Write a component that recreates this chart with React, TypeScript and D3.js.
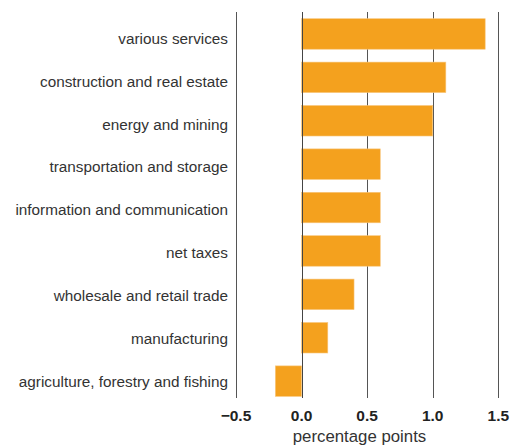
import React, { useEffect, useRef } from 'react';
import * as d3 from 'd3';

const categories = [
  'various services',
  'construction and real estate',
  'energy and mining',
  'transportation and storage',
  'information and communication',
  'net taxes',
  'wholesale and retail trade',
  'manufacturing',
  'agriculture, forestry and fishing',
];
const values = [1.4, 1.1, 1.0, 0.6, 0.6, 0.6, 0.4, 0.2, -0.2];
const ticks = [-0.5, 0, 0.5, 1.0, 1.5];

const FONT = "'Liberation Sans', Arial, Helvetica, sans-serif";

const App = () => {
  const svgRef = useRef<SVGSVGElement>(null);

  useEffect(() => {
    if (!svgRef.current) return;
    const width = 516;
    const height = 445;
    const svg = d3.select(svgRef.current);
    svg.selectAll('*').remove();
    svg.attr('width', width).attr('height', height);

    svg.append('rect').attr('width', width).attr('height', height).attr('fill', '#fff');

    const x = d3.scaleLinear().domain([-0.5, 1.5]).range([236, 498.3]);
    const y = d3.scaleBand<string>()
      .domain(categories)
      .range([18.7, 396.4])
      .paddingInner(0.297)
      .paddingOuter(0);
    // labels sit on a slightly tighter spacing than the bars
    const yLabel = d3.scalePoint<string>().domain(categories).range([44, 386.5]);

    // gridlines
    svg.append('g')
      .selectAll('line')
      .data(ticks)
      .enter()
      .append('line')
      .attr('x1', d => Math.round(x(d)) + 0.5)
      .attr('x2', d => Math.round(x(d)) + 0.5)
      .attr('y1', 12)
      .attr('y2', 398)
      .attr('stroke', '#555')
      .attr('stroke-width', 1);

    // bars
    svg.append('g')
      .selectAll('rect')
      .data(values)
      .enter()
      .append('rect')
      .attr('x', d => x(Math.min(0, d)))
      .attr('y', (d, i) => y(categories[i])!)
      .attr('width', d => Math.abs(x(d) - x(0)))
      .attr('height', y.bandwidth())
      .attr('fill', '#f4a11e')
      .attr('stroke', '#f8c77e')
      .attr('stroke-width', 0.6);

    // zero line on top of bars
    svg.append('line')
      .attr('x1', Math.round(x(0)) + 0.5)
      .attr('x2', Math.round(x(0)) + 0.5)
      .attr('y1', 12)
      .attr('y2', 398)
      .attr('stroke', '#444')
      .attr('stroke-width', 1);

    // category labels
    svg.append('g')
      .selectAll('text')
      .data(categories)
      .enter()
      .append('text')
      .attr('x', 228)
      .attr('y', d => yLabel(d)!)
      .attr('text-anchor', 'end')
      .attr('font-family', FONT)
      .attr('font-size', '15.3px')
      .attr('fill', '#333')
      .text(d => d);

    // tick labels
    svg.append('g')
      .selectAll('text')
      .data(ticks)
      .enter()
      .append('text')
      .attr('x', d => x(d))
      .attr('y', 420.5)
      .attr('text-anchor', 'middle')
      .attr('font-family', FONT)
      .attr('font-size', '15.5px')
      .attr('font-weight', 'bold')
      .attr('fill', '#222')
      .text(d => d3.format('.1f')(d));

    svg.append('text')
      .attr('x', 359.5)
      .attr('y', 441.5)
      .attr('text-anchor', 'middle')
      .attr('font-family', FONT)
      .attr('font-size', '16.8px')
      .attr('fill', '#333')
      .text('percentage points');
  }, []);

  return (
    <div style={{ position: 'absolute', left: 0, top: 0 }}>
      <svg ref={svgRef} style={{ display: 'block' }}></svg>
    </div>
  );
};

export default App;
